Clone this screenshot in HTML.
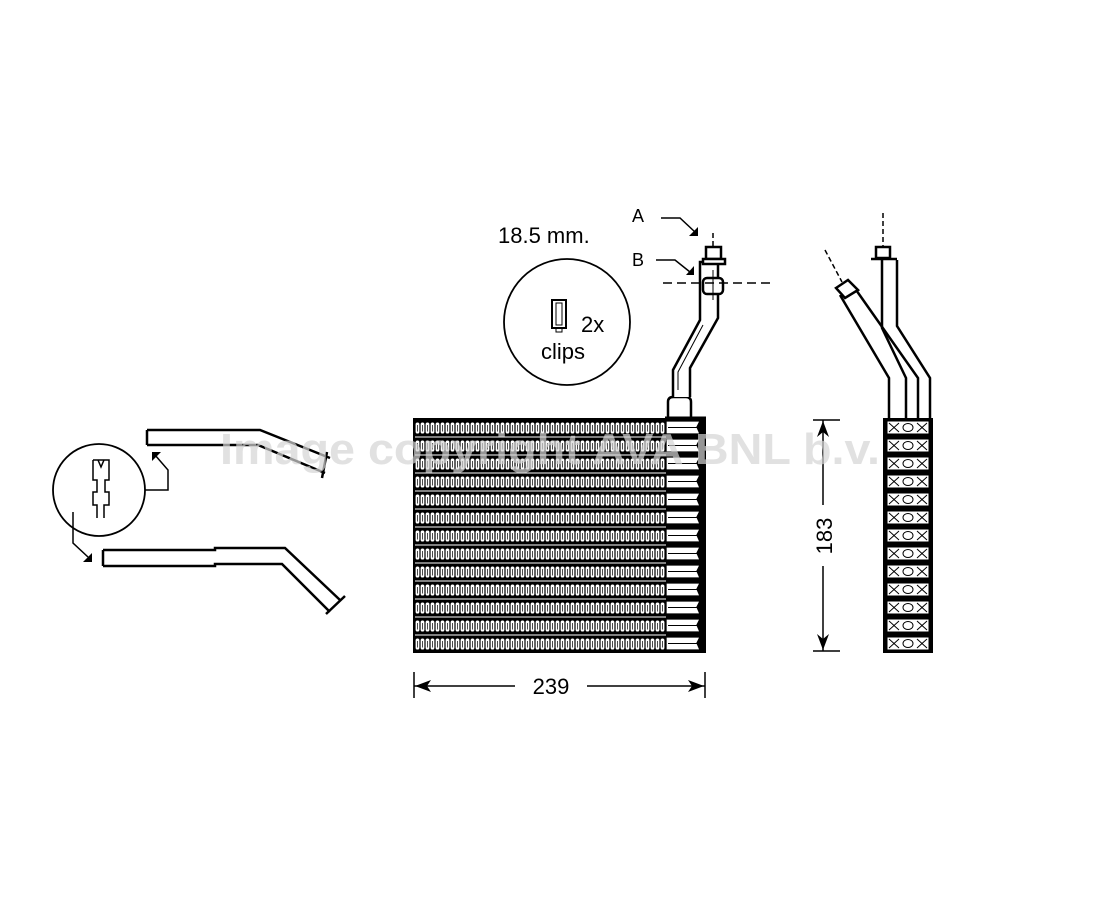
<!DOCTYPE html>
<html><head><meta charset="utf-8"><style>
html,body{margin:0;padding:0;background:#fff;width:1100px;height:900px;overflow:hidden}
svg{display:block}
text{font-family:"Liberation Sans",sans-serif}
</style></head><body>
<svg width="1100" height="900" viewBox="0 0 1100 900" xmlns="http://www.w3.org/2000/svg">
<defs>
<pattern id="fin" x="415" y="421" width="5" height="18" patternUnits="userSpaceOnUse">
<rect width="5" height="18" fill="#000"/>
<rect x="0.6" y="1.5" width="3.8" height="11" rx="1.8" fill="#fff"/>
<rect x="2.2" y="4" width="0.7" height="6.5" fill="#000"/>
<rect x="0" y="15.5" width="5" height="1" fill="#fff"/>
</pattern>
</defs>

<!-- core -->
<rect x="413" y="418" width="293" height="235" fill="#000"/>
<rect x="415" y="420" width="251" height="231" fill="url(#fin)"/>
<g fill="#fff" stroke="#000" stroke-width="1.3">
<path d="M666 421 H700 L697 427 L700 434 H666 Z"/>
<path d="M666 439 H700 L697 445 L700 452 H666 Z"/>
<path d="M666 457 H700 L697 463 L700 470 H666 Z"/>
<path d="M666 475 H700 L697 481 L700 488 H666 Z"/>
<path d="M666 493 H700 L697 499 L700 506 H666 Z"/>
<path d="M666 511 H700 L697 517 L700 524 H666 Z"/>
<path d="M666 529 H700 L697 535 L700 542 H666 Z"/>
<path d="M666 547 H700 L697 553 L700 560 H666 Z"/>
<path d="M666 565 H700 L697 571 L700 578 H666 Z"/>
<path d="M666 583 H700 L697 589 L700 596 H666 Z"/>
<path d="M666 601 H700 L697 607 L700 614 H666 Z"/>
<path d="M666 619 H700 L697 625 L700 632 H666 Z"/>
<path d="M666 637 H700 L697 643 L700 650 H666 Z"/>
</g>
<g stroke="#000" stroke-width="1">
<path d="M668 427.5 H697 M668 445.5 H697 M668 463.5 H697 M668 481.5 H697 M668 499.5 H697 M668 517.5 H697 M668 535.5 H697 M668 553.5 H697 M668 571.5 H697 M668 589.5 H697 M668 607.5 H697 M668 625.5 H697 M668 643.5 H697"/>
</g>

<!-- pipe on core -->
<g fill="#fff" stroke="#000" stroke-width="2.5">
<path d="M668 418 V402 Q668 397 673 397 H686 Q691 397 691 402 V418"/>
<path d="M673 397 V370 L700 320 V262 H718 V318 L690 368 V397"/>
<rect x="706" y="247" width="15" height="12"/>
<rect x="703" y="259" width="22" height="5"/>
<rect x="703" y="278" width="20" height="16" rx="4"/>
</g>
<path d="M665 418 H706" stroke="#000" stroke-width="3"/>
<path d="M678 390 V372 L703 325" stroke="#000" stroke-width="1" fill="none"/>
<path d="M713 233 V246" stroke="#000" stroke-width="1.5" stroke-dasharray="5,3"/>
<path d="M663 283 H770" stroke="#000" stroke-width="1.5" stroke-dasharray="9,5"/>
<path d="M713 270 V300" stroke="#000" stroke-width="1"/>

<!-- labels A B -->
<text x="632" y="222" font-size="18">A</text>
<text x="632" y="266" font-size="18">B</text>
<path d="M661 218 H680 L695 232" stroke="#000" stroke-width="1.5" fill="none"/>
<path d="M698 236 L689 236 L698 227 Z" fill="#000"/>
<path d="M656 260 H675 L690 272" stroke="#000" stroke-width="1.5" fill="none"/>
<path d="M694 275 L686 275 L694 266 Z" fill="#000"/>
<text x="498" y="243" font-size="22">18.5 mm.</text>

<!-- clips circle -->
<circle cx="567" cy="322" r="63" fill="none" stroke="#000" stroke-width="1.8"/>
<rect x="552" y="300" width="14" height="28" fill="none" stroke="#000" stroke-width="2"/>
<rect x="556" y="303" width="6" height="22" fill="none" stroke="#000" stroke-width="1"/>
<rect x="556" y="328" width="6" height="4" fill="none" stroke="#000" stroke-width="1"/>
<text x="581" y="332" font-size="22">2x</text>
<text x="541" y="359" font-size="22">clips</text>

<!-- side view -->
<rect x="883" y="418" width="50" height="235" fill="#000"/>
<g fill="#fff" stroke="#000" stroke-width="1">
<rect x="887" y="421" width="42" height="13"/><rect x="887" y="439" width="42" height="13"/>
<rect x="887" y="457" width="42" height="13"/><rect x="887" y="475" width="42" height="13"/>
<rect x="887" y="493" width="42" height="13"/><rect x="887" y="511" width="42" height="13"/>
<rect x="887" y="529" width="42" height="13"/><rect x="887" y="547" width="42" height="13"/>
<rect x="887" y="565" width="42" height="13"/><rect x="887" y="583" width="42" height="13"/>
<rect x="887" y="601" width="42" height="13"/><rect x="887" y="619" width="42" height="13"/>
<rect x="887" y="637" width="42" height="13"/>
</g>
<g stroke="#000" stroke-width="1" fill="none">
<path d="M889 423 L899 432 M899 423 L889 432 M917 423 L927 432 M927 423 L917 432"/>
<path d="M889 441 L899 450 M899 441 L889 450 M917 441 L927 450 M927 441 L917 450" />
<path d="M889 459 L899 468 M899 459 L889 468 M917 459 L927 468 M927 459 L917 468" />
<path d="M889 477 L899 486 M899 477 L889 486 M917 477 L927 486 M927 477 L917 486" />
<path d="M889 495 L899 504 M899 495 L889 504 M917 495 L927 504 M927 495 L917 504" />
<path d="M889 513 L899 522 M899 513 L889 522 M917 513 L927 522 M927 513 L917 522" />
<path d="M889 531 L899 540 M899 531 L889 540 M917 531 L927 540 M927 531 L917 540" />
<path d="M889 549 L899 558 M899 549 L889 558 M917 549 L927 558 M927 549 L917 558" />
<path d="M889 567 L899 576 M899 567 L889 576 M917 567 L927 576 M927 567 L917 576" />
<path d="M889 585 L899 594 M899 585 L889 594 M917 585 L927 594 M927 585 L917 594" />
<path d="M889 603 L899 612 M899 603 L889 612 M917 603 L927 612 M927 603 L917 612" />
<path d="M889 621 L899 630 M899 621 L889 630 M917 621 L927 630 M927 621 L917 630" />
<path d="M889 639 L899 648 M899 639 L889 648 M917 639 L927 648 M927 639 L917 648" />
</g>
<g fill="none" stroke="#000" stroke-width="1">
<ellipse cx="908" cy="427.5" rx="5" ry="4"/><ellipse cx="908" cy="445.5" rx="5" ry="4"/>
<ellipse cx="908" cy="463.5" rx="5" ry="4"/><ellipse cx="908" cy="481.5" rx="5" ry="4"/>
<ellipse cx="908" cy="499.5" rx="5" ry="4"/><ellipse cx="908" cy="517.5" rx="5" ry="4"/>
<ellipse cx="908" cy="535.5" rx="5" ry="4"/><ellipse cx="908" cy="553.5" rx="5" ry="4"/>
<ellipse cx="908" cy="571.5" rx="5" ry="4"/><ellipse cx="908" cy="589.5" rx="5" ry="4"/>
<ellipse cx="908" cy="607.5" rx="5" ry="4"/><ellipse cx="908" cy="625.5" rx="5" ry="4"/>
<ellipse cx="908" cy="643.5" rx="5" ry="4"/>
</g>
<g stroke="#000" stroke-width="2.5" fill="none">
<path d="M882 260 V328 L906 378 V418"/>
<path d="M897 260 V326 L930 378 V418"/>
<path d="M840 295 L889 378 V418"/>
<path d="M854 287 L918 378 V418"/>
<rect x="876" y="247" width="14" height="11" fill="#fff"/>
<path d="M871 259 H897"/>
<path d="M836 288 L848 280 L858 290 L845 298 Z" fill="#fff"/>
</g>
<path d="M883 213 V246" stroke="#000" stroke-width="1.5" stroke-dasharray="5,3"/>
<path d="M825 250 L842 282" stroke="#000" stroke-width="1.5" stroke-dasharray="5,3"/>

<!-- dim 183 -->
<g stroke="#000" stroke-width="1.5">
<path d="M813 420 H840 M813 651 H840 M823 420 V505 M823 566 V651"/>
</g>
<path d="M823 421 L817 437 L823 432 L829 437 Z M823 650 L817 634 L823 639 L829 634 Z" fill="#000"/>
<text transform="translate(832,536) rotate(-90)" font-size="22" text-anchor="middle">183</text>

<!-- dim 239 -->
<g stroke="#000" stroke-width="1.5">
<path d="M414 672 V698 M705 672 V698 M414 686 H515 M587 686 H705"/>
</g>
<path d="M415 686 L431 680 L427 686 L431 692 Z M704 686 L688 680 L692 686 L688 692 Z" fill="#000"/>
<text x="551" y="694" font-size="22" text-anchor="middle">239</text>

<!-- left detail -->
<circle cx="99" cy="490" r="46" fill="#fff" stroke="#000" stroke-width="1.8"/>
<g stroke="#000" stroke-width="1.5" fill="none">
<path d="M93 460 H109 V480 H105 V492 H109 V505 H104 V518 M93 460 V480 H97 V492 H93 V505 H97 V518 M98 460 L101 467 L104 460"/>
</g>
<g stroke="#000" stroke-width="2.5" fill="none">
<path d="M147 430 H260 L330 458 M147 445 H258 L325 473 M147 430 V445 M327 452 L322 478"/>
<path d="M103 550 H215 V548 H285 L340 600 M103 566 H215 V564 H282 L330 612 M103 550 V566 M345 596 L326 614"/>
</g>
<g stroke="#000" stroke-width="1.5" fill="none">
<path d="M145 490 H168 V470 L155 455"/><path d="M73 512 V543 L88 557"/>
</g>
<path d="M152 452 L161 452 L152 461 Z M92 562 L83 562 L92 553 Z" fill="#000"/>

<!-- watermark -->
<text x="220" y="464" font-size="44" font-weight="bold" fill="#d4d4d4" fill-opacity="0.7" textLength="660" lengthAdjust="spacingAndGlyphs">Image copyright AVA BNL b.v.</text>
</svg>
</body></html>
